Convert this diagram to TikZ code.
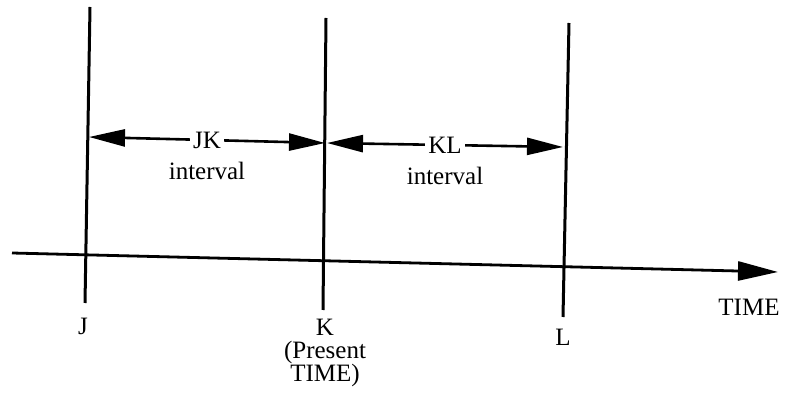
\documentclass[tikz,border=0pt]{standalone}
\usepackage{fontspec}
\setmainfont{Liberation Serif}
\usetikzlibrary{arrows.meta,positioning}

\begin{document}
\begin{tikzpicture}[
    x=1pt,y=-1pt,
    font=\fontsize{25}{23}\selectfont,
    tick/.style={line width=3pt},
    span/.style={{Triangle[length=36pt,width=17pt]}-{Triangle[length=36pt,width=17pt]},line width=2.6pt},
    axis/.style={-{Triangle[length=40pt,width=19pt]},line width=2.8pt},
    lbl/.style={fill=white,inner sep=3pt},
    node distance=0pt
]
\useasboundingbox (0,0) rectangle (785,411);
% vertical marks
\coordinate (Jtop) at (90,7);   \coordinate (Jbot) at (85,303);
\coordinate (Ktop) at (326,18); \coordinate (Kbot) at (323,310);
\coordinate (Ltop) at (569,23); \coordinate (Lbot) at (563,317);
\draw[tick] (Jtop)--(Jbot);
\draw[tick] (Ktop)--(Kbot);
\draw[tick] (Ltop)--(Lbot);
% time axis
\coordinate (axL) at (12,253);
\coordinate (axR) at (778,272);
\draw[axis] (axL)--(axR);
\node (time) at (749,307) {TIME};
% interval arrows
\coordinate (jkL) at (89,137);  \coordinate (jkR) at (325,143);
\coordinate (klL) at (327,143); \coordinate (klR) at (563,147);
\draw[span] (jkL)-- node[lbl] (jk) {JK} (jkR);
\draw[span] (klL)-- node[lbl] (kl) {KL} (klR);
\node[below=6pt of jk] (jkint) {interval};
\node[below=6pt of kl] (klint) {interval};
% labels
\node (labJ) at (83,326) {J};
\node[align=center,anchor=north,inner sep=1pt] (labK) at (325,318) {K\\(Present\\TIME)};
\node (labL) at (563,337) {L};
\end{tikzpicture}
\end{document}
